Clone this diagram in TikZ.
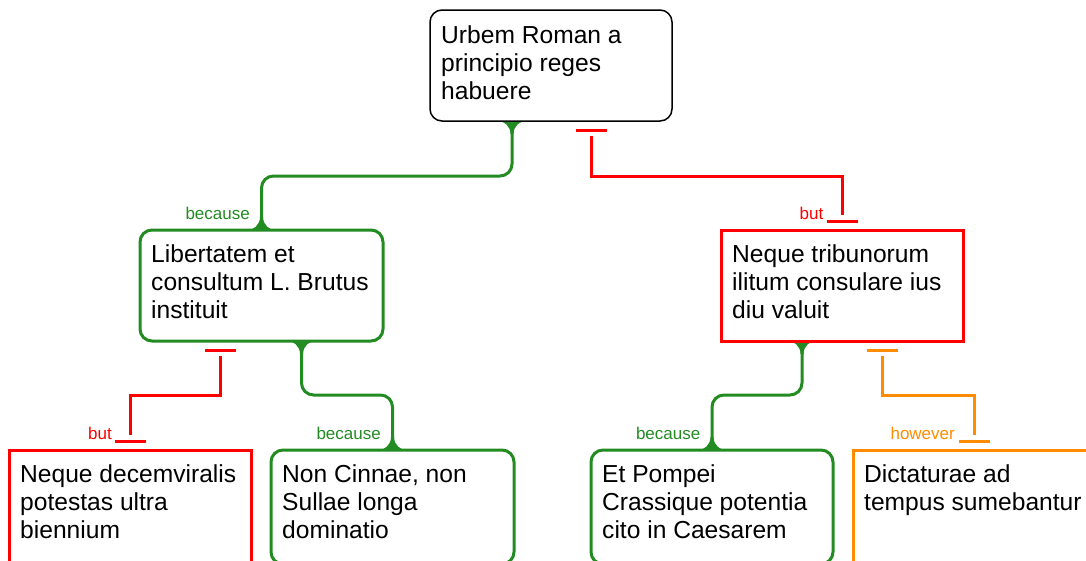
\documentclass[tikz,border=0pt]{standalone}
\usepackage{fontspec}
\setmainfont{Liberation Sans}
\usetikzlibrary{calc}
\definecolor{cgreen}{RGB}{34,139,34}
\definecolor{cred}{RGB}{255,0,0}
\definecolor{corange}{RGB}{255,140,0}

\newcommand\boxtext[1]{\parbox[t]{236pt}{#1}}

\begin{document}
\begin{tikzpicture}[x=1pt,y=1pt,
  box/.style={minimum width=242pt, minimum height=111pt, anchor=north west,
    inner sep=0pt, outer sep=0pt, fill=white, line width=3pt},
  rbox/.style={box, rounded corners=12pt},
  low/.style={minimum height=114pt},
  body/.style={anchor=base west, inner sep=0pt, font=\fontsize{24.6}{28.3}\selectfont},
  link/.style={line width=3pt, rounded corners=12pt},
  stop/.style={line width=3pt},
  tag/.style={anchor=base east, inner sep=0pt, font=\fontsize{17}{20}\selectfont},
  flare/.pic={\fill (-15.5,0.5) .. controls (-7.6,0.5) and (-1.5,-5.4) .. (-1.5,-13)
     -- (1.5,-13) .. controls (1.5,-5.4) and (7.6,0.5) .. (15.5,0.5) -- cycle;}
]
\useasboundingbox (0,0) rectangle (1086,-560);
\clip (0,0) rectangle (1086,-560);

% boxes (positions only, drawn later on top of the links)
\path
  (430,-10)  node[rbox] (top)  {}
  (140,-230) node[rbox, minimum width=243pt] (lib) {}
  (721,-230) node[box] (trib) {}
  (9,-450)   node[box, low] (dec)  {}
  (271,-450) node[rbox, low, minimum width=243pt] (cin) {}
  (591,-450) node[rbox, low] (pom)  {}
  (853,-450) node[box, low] (dic)  {};

% --- supporting links (green, rounded, flared ends) ---
\draw[link, cgreen] ($(top.south)+(-39,0)$) -- ($(top.south)+(-39,-55)$) -| (lib.north);
\pic[cgreen] at ($(top.south)+(-39,0)$) {flare};
\pic[cgreen, rotate=180] at (lib.north) {flare};

\draw[link, cgreen] ($(lib.south)+(40,0)$) -- ($(lib.south)+(40,-54)$) -| (cin.north);
\pic[cgreen] at ($(lib.south)+(40,0)$) {flare};
\pic[cgreen, rotate=180] at (cin.north) {flare};

\draw[link, cgreen] ($(trib.south)+(-40,0)$) -- ($(trib.south)+(-40,-54)$) -| (pom.north);
\pic[cgreen] at ($(trib.south)+(-40,0)$) {flare};
\pic[cgreen, rotate=180] at (pom.north) {flare};

% --- opposing links (square corners, bar ends) ---
\coordinate (r1s) at ($(top.south)+(40,0)$);
\coordinate (r1t) at (trib.north);
\draw[stop, cred] ($(r1s)+(-15.5,-9)$) -- ++(31,0);
\draw[stop, cred] ($(r1s)+(0,-15)$) -- ($(r1s)+(0,-55)$) -| ($(r1t)+(0,15)$);
\draw[stop, cred] ($(r1t)+(-15.5,9)$) -- ++(31,0);

\coordinate (r2s) at ($(lib.south)+(-41,0)$);
\coordinate (r2t) at (dec.north);
\draw[stop, cred] ($(r2s)+(-15.5,-9)$) -- ++(31,0);
\draw[stop, cred] ($(r2s)+(0,-15)$) -- ($(r2s)+(0,-54)$) -| ($(r2t)+(0,15)$);
\draw[stop, cred] ($(r2t)+(-15.5,9)$) -- ++(31,0);

\coordinate (o1s) at ($(trib.south)+(40,0)$);
\coordinate (o1t) at (dic.north);
\draw[stop, corange] ($(o1s)+(-15.5,-9)$) -- ++(31,0);
\draw[stop, corange] ($(o1s)+(0,-15)$) -- ($(o1s)+(0,-54)$) -| ($(o1t)+(0,15)$);
\draw[stop, corange] ($(o1t)+(-15.5,9)$) -- ++(31,0);

% --- link labels ---
\node[tag, cgreen] (l1) at ($(lib.north)+(-11.5,11)$) {because};
\node[tag, cred]   (l2) at ($(trib.north)+(-18.5,11)$) {but};
\node[tag, cred]   (l3) at ($(dec.north)+(-18,11)$) {but};
\node[tag, cgreen] (l4) at ($(cin.north)+(-11.5,11)$) {because};
\node[tag, cgreen] (l5) at ($(pom.north)+(-11.5,11)$) {because};
\node[tag, corange] (l6) at ($(dic.north)+(-19,11)$) {however};

% --- boxes ---
\node[rbox, draw=black, line width=1.5pt] at (430,-10) {};
\node[rbox, draw=cgreen, minimum width=243pt] at (140,-230) {};
\node[box, draw=cred] at (721,-230) {};
\node[box, low, draw=cred] at (9,-450) {};
\node[rbox, low, draw=cgreen, minimum width=243pt] at (271,-450) {};
\node[rbox, low, draw=cgreen] at (591,-450) {};
\node[box, low, draw=corange] at (853,-450) {};

% --- box texts ---
\node[body] (topT)  at ($(top.north west)+(11,-33.2)$) {\boxtext{Urbem Roman a\\principio reges\\habuere}};
\node[body] (libT)  at ($(lib.north west)+(11,-32)$) {\boxtext{Libertatem et\\consultum L. Brutus\\instituit}};
\node[body] (tribT) at ($(trib.north west)+(11,-32)$) {\boxtext{Neque tribunorum\\ilitum consulare ius\\diu valuit}};
\node[body] (decT)  at ($(dec.north west)+(11,-32)$) {\boxtext{Neque decemviralis\\potestas ultra\\biennium}};
\node[body] (cinT)  at ($(cin.north west)+(11,-32)$) {\boxtext{Non Cinnae, non\\Sullae longa\\dominatio}};
\node[body] (pomT)  at ($(pom.north west)+(11,-32)$) {\boxtext{Et Pompei\\Crassique potentia\\cito in Caesarem}};
\node[body] (dicT)  at ($(dic.north west)+(11,-32)$) {\boxtext{Dictaturae ad\\tempus sumebantur}};
\end{tikzpicture}
\end{document}
